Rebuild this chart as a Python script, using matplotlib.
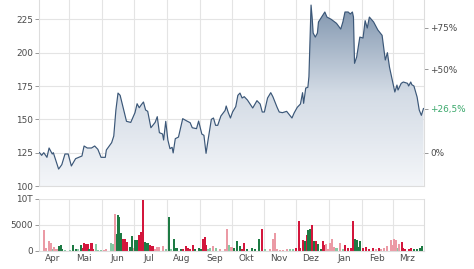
import numpy as np
import pandas as pd
import matplotlib
matplotlib.use("Agg")
import matplotlib.pyplot as plt
import matplotlib.dates as mdates
from matplotlib.colors import LinearSegmentedColormap

# price (close) over one year
price_dates = [
    "2023-04-03", "2023-04-05", "2023-04-07", "2023-04-10", "2023-04-12", "2023-04-15", "2023-04-16",
    "2023-04-21", "2023-04-24", "2023-04-27", "2023-04-30", "2023-05-03", "2023-05-07", "2023-05-10",
    "2023-05-13", "2023-05-15", "2023-05-18", "2023-05-22", "2023-05-25", "2023-05-28", "2023-05-31",
    "2023-06-04", "2023-06-05", "2023-06-10", "2023-06-12", "2023-06-14", "2023-06-16", "2023-06-18",
    "2023-06-22", "2023-06-24", "2023-06-28", "2023-07-02", "2023-07-04", "2023-07-06", "2023-07-08",
    "2023-07-10", "2023-07-12", "2023-07-14", "2023-07-17", "2023-07-21", "2023-07-23", "2023-07-25",
    "2023-07-28", "2023-07-29", "2023-07-31", "2023-08-02", "2023-08-04", "2023-08-06", "2023-08-07",
    "2023-08-09", "2023-08-12", "2023-08-16", "2023-08-20", "2023-08-23", "2023-08-25", "2023-08-29",
    "2023-08-31", "2023-09-03", "2023-09-05", "2023-09-07", "2023-09-09", "2023-09-12", "2023-09-14",
    "2023-09-16", "2023-09-18", "2023-09-21", "2023-09-25", "2023-09-26", "2023-09-28", "2023-09-30",
    "2023-10-02", "2023-10-05", "2023-10-07", "2023-10-09", "2023-10-11", "2023-10-13", "2023-10-16",
    "2023-10-21", "2023-10-25", "2023-10-28", "2023-10-30", "2023-11-01", "2023-11-04", "2023-11-07",
    "2023-11-09", "2023-11-13", "2023-11-15", "2023-11-18", "2023-11-22", "2023-11-25", "2023-11-27",
    "2023-11-29", "2023-12-02", "2023-12-05", "2023-12-07", "2023-12-08", "2023-12-10", "2023-12-12",
    "2023-12-13", "2023-12-15", "2023-12-16", "2023-12-17", "2023-12-19", "2023-12-21", "2023-12-22",
    "2023-12-26", "2023-12-28", "2023-12-30", "2024-01-03", "2024-01-08", "2024-01-12", "2024-01-14",
    "2024-01-16", "2024-01-19", "2024-01-21", "2024-01-23", "2024-01-24", "2024-01-25", "2024-01-27",
    "2024-01-30", "2024-02-02", "2024-02-04", "2024-02-06", "2024-02-08", "2024-02-12", "2024-02-16",
    "2024-02-20", "2024-02-23", "2024-02-25", "2024-02-27", "2024-03-01", "2024-03-03", "2024-03-05",
    "2024-03-06", "2024-03-09", "2024-03-11", "2024-03-15", "2024-03-16", "2024-03-18", "2024-03-19",
    "2024-03-21", "2024-03-24", "2024-03-26", "2024-03-28", "2024-03-30",
]
price = [
    125.0, 123, 125, 121.5, 128.5, 124, 125,
    112.7, 116, 124, 124, 115, 120.5, 121.5,
    122.5, 130, 128.5, 128.5, 130, 127.5, 121.5,
    121.5, 127, 132.5, 137.5, 157, 169.7, 168,
    155, 148.5, 147.7, 155, 161.7, 158.7, 161,
    163, 157, 156, 143.7, 147.7, 152, 140,
    139, 134.5, 148.5, 134.5, 128, 129, 124.8,
    135.5, 136.7, 150.5, 148.7, 147.5, 143.7, 143,
    148.7, 139, 138, 124.5, 135, 150, 151,
    145.5, 145.5, 152.5, 156.7, 160, 155, 151,
    155.5, 159.5, 168, 169.7, 166, 167, 164.5,
    158.5, 164, 161.5, 155.5, 155.5, 166, 170,
    167, 159, 155.5, 155, 156, 153, 151,
    154.7, 159, 161.5, 170, 162, 173.5, 174,
    182, 235.7, 226.7, 214.7, 211.7, 214.7, 223,
    228, 230.5, 226.7, 225, 222, 217.7, 223,
    230.5, 230.5, 229, 230.5, 226.7, 192, 196.7,
    211.7, 211, 224, 218.5, 226.7, 223, 217,
    213, 194.5, 200, 189, 178, 170.5, 175.7,
    172, 177, 178, 177, 175, 178, 176,
    175, 166.7, 157, 153, 158.1,
]

# trading volume; kind: G dark green, g light green, R dark red, r light red
vol_dates = [
    "2023-04-07", "2023-04-09", "2023-04-12", "2023-04-14", "2023-04-16", "2023-04-17", "2023-04-19",
    "2023-04-21", "2023-04-23", "2023-04-24", "2023-04-27", "2023-05-02", "2023-05-05", "2023-05-07",
    "2023-05-09", "2023-05-12", "2023-05-14", "2023-05-15", "2023-05-17", "2023-05-19", "2023-05-20",
    "2023-05-22", "2023-05-23", "2023-05-26", "2023-05-28", "2023-05-31", "2023-06-03", "2023-06-05",
    "2023-06-09", "2023-06-11", "2023-06-13", "2023-06-15", "2023-06-16", "2023-06-17", "2023-06-19",
    "2023-06-21", "2023-06-22", "2023-06-23", "2023-06-24", "2023-06-27", "2023-06-29", "2023-07-01",
    "2023-07-02", "2023-07-04", "2023-07-06", "2023-07-08", "2023-07-10", "2023-07-11", "2023-07-13",
    "2023-07-14", "2023-07-16", "2023-07-17", "2023-07-19", "2023-07-21", "2023-07-23", "2023-07-25",
    "2023-07-28", "2023-07-31", "2023-08-03", "2023-08-05", "2023-08-08", "2023-08-10", "2023-08-11",
    "2023-08-14", "2023-08-16", "2023-08-19", "2023-08-21", "2023-08-23", "2023-08-26", "2023-08-28",
    "2023-08-31", "2023-09-02", "2023-09-04", "2023-09-06", "2023-09-07", "2023-09-09", "2023-09-11",
    "2023-09-14", "2023-09-16", "2023-09-20", "2023-09-25", "2023-09-27", "2023-09-29", "2023-10-01",
    "2023-10-03", "2023-10-06", "2023-10-09", "2023-10-11", "2023-10-13", "2023-10-16", "2023-10-20",
    "2023-10-23", "2023-10-27", "2023-10-30", "2023-11-02", "2023-11-06", "2023-11-09", "2023-11-11",
    "2023-11-13", "2023-11-16", "2023-11-19", "2023-11-22", "2023-11-25", "2023-11-28", "2023-12-01",
    "2023-12-04", "2023-12-05", "2023-12-07", "2023-12-09", "2023-12-11", "2023-12-12", "2023-12-14",
    "2023-12-16", "2023-12-18", "2023-12-20", "2023-12-22", "2023-12-24", "2023-12-26", "2023-12-28",
    "2023-12-29", "2023-12-31", "2024-01-02", "2024-01-04", "2024-01-06", "2024-01-08", "2024-01-11",
    "2024-01-14", "2024-01-16", "2024-01-19", "2024-01-22", "2024-01-24", "2024-01-25", "2024-01-27",
    "2024-01-29", "2024-01-30", "2024-02-02", "2024-02-05", "2024-02-08", "2024-02-11", "2024-02-14",
    "2024-02-17", "2024-02-19", "2024-02-22", "2024-02-25", "2024-02-28", "2024-02-29", "2024-03-02",
    "2024-03-03", "2024-03-04", "2024-03-06", "2024-03-07", "2024-03-10", "2024-03-11", "2024-03-13",
    "2024-03-16", "2024-03-18", "2024-03-21", "2024-03-24", "2024-03-27", "2024-03-29",
]
volume = [
    4100, 600, 2000, 1500, 400, 700, 300,
    1000, 1200, 300, 200, 200, 1100, 300,
    300, 1100, 600, 1600, 1300, 1400, 400,
    1600, 300, 1300, 200, 200, 200, 300,
    1500, 1400, 7100, 3300, 7000, 6500, 3500,
    2300, 1500, 2300, 1700, 800, 2900, 600,
    2200, 2100, 3100, 3600, 9800, 1700, 1600,
    1500, 1200, 1000, 1000, 400, 800, 800,
    1000, 400, 6500, 400, 2300, 500, 500,
    300, 300, 1000, 600, 400, 1200, 400,
    600, 300, 2400, 2600, 1200, 300, 500,
    1000, 600, 300, 400, 4300, 1200, 800,
    600, 2000, 900, 300, 1500, 300, 500,
    300, 2300, 4300, 400, 300, 2400, 3400,
    300, 200, 200, 300, 300, 300, 500,
    5700, 600, 2200, 1900, 3000, 4100, 4300,
    5000, 2000, 1900, 1400, 400, 1900, 1100,
    1300, 400, 1500, 2300, 800, 600, 1500,
    400, 1200, 500, 600, 5700, 2300, 2200,
    800, 1900, 500, 700, 400, 600, 400,
    500, 400, 600, 900, 2200, 1200, 2300,
    1000, 2200, 600, 1300, 1700, 600, 400,
    400, 500, 300, 400, 500, 1000,
]
vol_kind = (
    "rrrrgrr" "GGGggGG" "gGRRRRG" "RRgggrr" "ggrGGGG" "RRRRGGr" "GGRRRGG"
    "GRRRrrr" "rgGgGGG" "GRRRRRG" "GGRRRgg" "rgrrrgr" "GGGRRGG" "GGRgrrr"
    "rrrrggR" "RRRGRGG" "RGRGGRR" "rrrrrgr" "gRRRRGG" "GGRRRRr" "Rrrrrrr"
    "rrgrRRR" "RRGGGG"
)
pct_ticks = [0, 26.5, 50, 75]
month_labels = ["Apr", "Mai", "Jun", "Jul", "Aug", "Sep", "Okt", "Nov", "Dez", "Jan", "Feb", "Mrz"]

kind_colors = {"G": "#1d7a43", "g": "#86c9a2", "R": "#d3163c", "r": "#eb9aa5"}
LINE, TXT, GRID, GREEN = "#3b5778", "#4a4a4a", "#e4e4e4", "#3aa86b"

pd_dates = pd.to_datetime(price_dates)
x = mdates.date2num(pd_dates)
y = np.array(price)
base = price[0]

plt.rcParams.update({"font.family": "DejaVu Sans", "font.size": 6.4})
fig = plt.figure(figsize=(4.74, 2.69), dpi=100)
ax = fig.add_axes([39/474, 1 - 186/269, 385/474, 186/269])
axv = fig.add_axes([39/474, 1 - 251/269, 385/474, 52/269], sharex=ax)

ymin, ymax = 100, 239.5
xmin, xmax = x[0], x[-1]
# gradient fill under the price line
cmap = LinearSegmentedColormap.from_list("fade", ["#f4f6f9", "#d3dbe5", "#7b91ab"])
grad = np.linspace(0, 1, 256).reshape(-1, 1)
im = ax.imshow(grad, cmap=cmap, aspect="auto", origin="lower",
               extent=[xmin, xmax, ymin, ymax], zorder=1)
poly = ax.fill_between(x, y, ymin, color="none", lw=0)
im.set_clip_path(poly.get_paths()[0], transform=ax.transData)
ax.plot(x, y, color=LINE, lw=0.85, zorder=3)

ax.set_ylim(ymin, ymax)
ax.set_xlim(xmin - 0.5, xmax + 0.5)
ax.set_yticks([100, 125, 150, 175, 200, 225])

month_starts = pd.date_range("2023-05-01", "2024-03-01", freq="MS")
month_mid = pd.date_range("2023-04-01", "2024-03-01", freq="MS") + pd.Timedelta(days=14)

for a in (ax, axv):
    a.set_xticks(mdates.date2num(month_starts), minor=True)
    a.grid(True, which="minor", axis="x", color=GRID, lw=0.8)
    a.grid(True, which="major", axis="y", color=GRID, lw=0.8)
    a.set_axisbelow(True)
    for s in a.spines.values():
        s.set_color("#dddddd")
        s.set_linewidth(0.8)
    a.spines["top"].set_visible(False)
    a.tick_params(axis="y", colors=TXT, length=3, width=0.6, color="#888888", pad=1.5)
    a.tick_params(axis="x", which="both", length=0)

ax.tick_params(axis="x", labelbottom=False)

# percent axis on the right
axp = ax.secondary_yaxis("right", functions=(lambda p: (p / base - 1) * 100,
                                             lambda q: base * (1 + q / 100)))
axp.set_yticks(pct_ticks)
axp.set_yticklabels([("+" if t > 0 else "") + f"{t:g}".replace(".", ",") + "%" for t in pct_ticks])
axp.tick_params(colors=TXT, length=3, width=0.6, color="#888888", pad=1.5)
axp.spines["right"].set_visible(False)
axp.get_yticklabels()[1].set_color(GREEN)

# volume bars
vx = mdates.date2num(pd.to_datetime(vol_dates))
axv.bar(vx, volume, width=1.9, color=[kind_colors[k] for k in vol_kind], lw=0,
        antialiased=False, zorder=2)
axv.set_ylim(0, 10000)
axv.set_yticks([0, 5000, 10000])
axv.set_yticklabels(["0", "5000", "10T"])
axv.set_xticks(mdates.date2num(month_mid))
axv.set_xticklabels(month_labels, color=TXT)
axv.tick_params(axis="x", pad=2)

fig.savefig("out.png", dpi=100)
